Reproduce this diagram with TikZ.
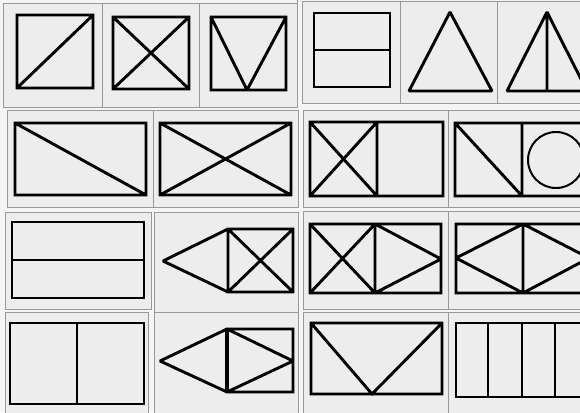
\documentclass[tikz,border=0pt]{standalone}
\begin{document}
\begin{tikzpicture}[x=1pt,y=-1pt,
  cellline/.style={draw=black!40,line width=0.9pt},
  fig/.style={draw=black,line width=2.9pt,line join=miter,miter limit=1.5},
  thin fig/.style={draw=black,line width=2pt}]
\useasboundingbox (0,0) rectangle (580,412);
\clip (0,0) rectangle (580,412);
\fill[black!4] (0,0) rectangle (580,412);
% cell frames
\begin{scope}[cellline]
\fill[black!7] (3,3) rectangle (297,107);
\draw (3,3) rectangle (297,107) (102,3) -- (102,107) (199,3) -- (199,107);
\fill[black!7] (302,1) rectangle (592,103);
\draw (302,1) rectangle (592,103) (400,1) -- (400,103) (497,1) -- (497,103);
\draw (297,0) -- (297,3);
\fill[black!7] (7,110) rectangle (298,207);
\draw (7,110) rectangle (298,207) (153,110) -- (153,207);
\fill[black!7] (303,110) rectangle (592,207);
\draw (303,110) rectangle (592,207) (448,110) -- (448,207);
\fill[black!7] (5,212) rectangle (151,309);
\draw (5,212) rectangle (151,309);
\fill[black!7] (154,212) rectangle (298,312);
\draw (154,212) rectangle (298,312);
\fill[black!7] (303,211) rectangle (592,309);
\draw (303,211) rectangle (592,309) (448,211) -- (448,309);
\fill[black!7] (5,312) rectangle (148,415);
\draw (5,312) rectangle (148,415);
\fill[black!7] (154,312) rectangle (298,415);
\draw (154,312) rectangle (298,415);
\fill[black!7] (303,312) rectangle (592,415);
\draw (303,312) rectangle (592,415) (448,312) -- (448,415);
\end{scope}
% row 1
\draw[fig] (17,15) rectangle (93,88) (17,88) -- (93,15);
\draw[fig] (113,17) rectangle (189,89) (113,17) -- (189,89) (113,89) -- (189,17);
\draw[fig] (211,17) rectangle (286,90) (211,17) -- (247,90) -- (286,17);
\draw[fig] (314,13) rectangle (390,87) (314,50) -- (390,50);
\draw[fig] (409,91) -- (450,12) -- (492,91) -- cycle;
\draw[fig] (507,91) -- (547,12) -- (587,91) -- cycle (547,12) -- (547,91);
% row 2
\draw[fig] (15,123) rectangle (146,195) (15,123) -- (146,195);
\draw[fig] (160,123) rectangle (291,195) (160,123) -- (291,195) (160,195) -- (291,123);
\draw[fig] (310,122) rectangle (443,196) (377,122) -- (377,196)
  (310,122) -- (377,196) (310,196) -- (377,122);
\draw[fig] (455,123) rectangle (588,196) (522,123) -- (522,196) (455,123) -- (522,196);
\draw[thin fig] (556,160) circle (28);
% row 3
\draw[fig] (12,222) rectangle (144,298) (12,260) -- (144,260);
\draw[fig] (228,229) rectangle (293,292) (228,229) -- (293,292) (228,292) -- (293,229)
  (228,229) -- (163,261) -- (228,292);
\draw[fig] (310,224) rectangle (441,293) (375,224) -- (375,293)
  (310,224) -- (375,293) (310,293) -- (375,224)
  (375,224) -- (441,259) -- (375,293);
\draw[fig] (456,224) rectangle (589,293) (523,224) -- (523,293)
  (523,224) -- (456,258) -- (523,293)
  (523,224) -- (589,258) -- (523,293);
% row 4
\draw[fig] (10,323) rectangle (144,404) (77,323) -- (77,404);
\draw[fig] (227,329) rectangle (293,392)
  (227,329) -- (160,361) -- (227,392)
  (227,329) -- (293,361) -- (227,392);
\draw[black,line width=4pt] (227,329) -- (227,392);
\draw[fig] (311,323) rectangle (442,394) (311,323) -- (372,394) -- (442,323);
\draw[fig] (456,323) rectangle (589,397) (488,323) -- (488,397)
  (522,323) -- (522,397) (555,323) -- (555,397);
\end{tikzpicture}
\end{document}
